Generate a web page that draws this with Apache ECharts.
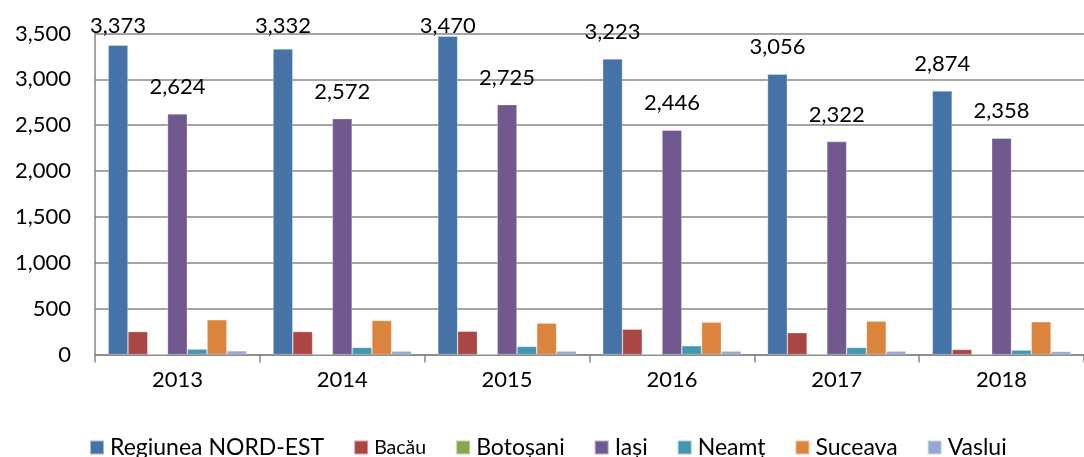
<!DOCTYPE html>
<html>
<head>
<meta charset="utf-8">
<script src="https://cdn.jsdelivr.net/npm/echarts@6/dist/echarts.min.js"></script>
<style>
  html, body { margin: 0; padding: 0; background: #fff; }
  #chart { width: 1084px; height: 457px; }
</style>
</head>
<body>
<div id="chart"></div>
<script>
var years = ['2013', '2014', '2015', '2016', '2017', '2018'];
var seriesNames = ['Regiunea NORD-EST', 'Bacău', 'Botoșani', 'Iași', 'Neamț', 'Suceava', 'Vaslui'];
var regiune = [3373, 3332, 3470, 3223, 3056, 2874];
var bacau = [250, 250, 254, 276, 238, 55];
var botosani = [0, 0, 0, 0, 0, 0];
var iasi = [2624, 2572, 2725, 2446, 2322, 2358];
var neamt = [59, 77, 88, 95, 77, 48];
var suceava = [379, 371, 342, 353, 364, 357];
var vaslui = [40, 37, 37, 37, 37, 33];
var colors = ['#4572A7', '#AA4643', '#89A54E', '#71588F', '#4198AF', '#DB843D', '#93A9CF'];

var fmt = function(v){ return Number(v).toLocaleString('en-US'); };
var font = 'Lato, "Open Sans", sans-serif';

function mkSeries(name, data, withLabel){
    return {
        name: name,
        type: 'bar',
        data: data,
        barGap: '0%',
        barCategoryGap: '16%',
        itemStyle: { borderColor: 'rgba(255,255,255,0.5)', borderWidth: 0.6 },
        label: {
            show: withLabel,
            position: 'top',
            distance: 16,
            color: '#000',
            fontFamily: font,
            fontSize: 22,
            formatter: function(p){ return fmt(p.value); }
        },
        // keep labels inside the top of the chart like the original
        labelLayout: withLabel ? function(p){
            var minTop = 15;
            return { dy: Math.max(0, minTop - p.labelRect.y) };
        } : undefined
    };
}

var myChart = echarts.init(document.getElementById('chart'));
var option = {
    animation: false,
    color: colors,
    textStyle: { fontFamily: font },
    grid: { left: 95, top: 33.5, height: 321, width: 1004, containLabel: false },
    legend: {
        top: 431,
        left: 84,
        itemWidth: 14,
        itemHeight: 14,
        itemGap: 29,
        icon: 'rect',
        data: seriesNames,
        textStyle: {
            fontFamily: font,
            fontSize: 23,
            color: '#000',
            padding: [0, 0, 0, 1],
            rich: { s: { fontSize: 19.5, fontFamily: font, color: '#000' } }
        },
        formatter: function(name){
            return name === 'Bacău' ? '{s|' + name + '}' : name;
        }
    },
    xAxis: {
        type: 'category',
        data: years,
        axisLine: { lineStyle: { color: '#868686', width: 1.5 } },
        axisTick: { show: true, length: 8, lineStyle: { color: '#868686', width: 1.5 } },
        axisLabel: { color: '#000', fontSize: 22, fontFamily: font, margin: 14 }
    },
    yAxis: {
        type: 'value',
        min: 0,
        max: 3500,
        interval: 500,
        axisLine: { show: true, lineStyle: { color: '#868686', width: 1.5 } },
        axisTick: { show: false },
        splitLine: { lineStyle: { color: '#868686', width: 1.5 } },
        axisLabel: {
            color: '#000', fontSize: 22, fontFamily: font, margin: 24,
            formatter: function(v){ return fmt(v); }
        }
    },
    series: [
        mkSeries(seriesNames[0], regiune, true),
        mkSeries(seriesNames[1], bacau, false),
        mkSeries(seriesNames[2], botosani, false),
        mkSeries(seriesNames[3], iasi, true),
        mkSeries(seriesNames[4], neamt, false),
        mkSeries(seriesNames[5], suceava, false),
        mkSeries(seriesNames[6], vaslui, false)
    ]
};
myChart.setOption(option);
</script>
</body>
</html>
